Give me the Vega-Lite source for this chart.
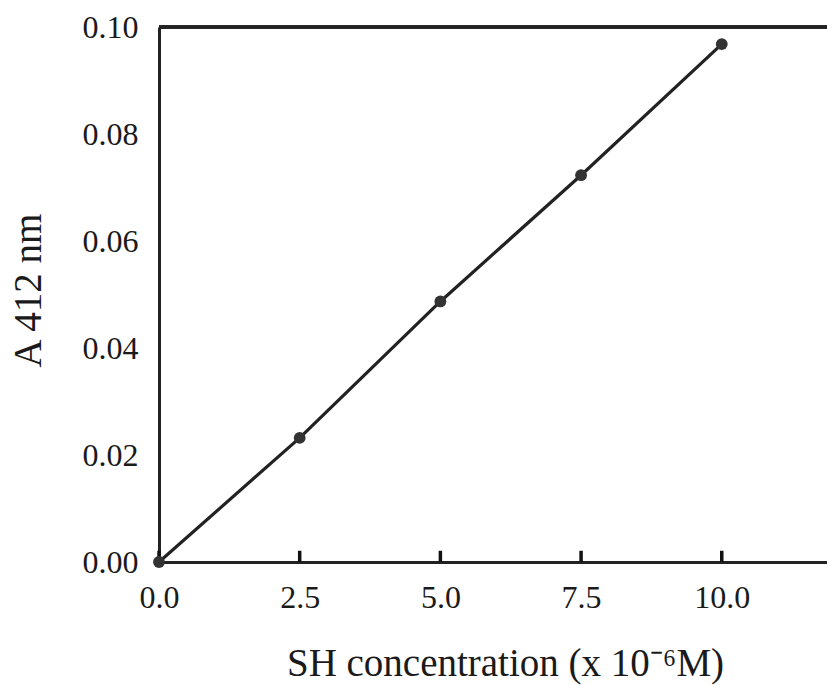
{
  "$schema": "https://vega.github.io/schema/vega-lite/v6.json",
  "width": 668,
  "height": 535,
  "autosize": {"type": "none"},
  "padding": {"left": 159, "top": 27, "right": 0, "bottom": 123},
  "background": "white",
  "config": {
    "view": {"stroke": null},
    "font": "Liberation Serif",
    "axis": {
      "grid": false,
      "ticks": false,
      "domainColor": "#222222",
      "domainWidth": 3,
      "labelFont": "Liberation Serif",
      "labelFontSize": 32,
      "labelColor": "#1a1a1a",
      "titleFont": "Liberation Serif",
      "titleFontSize": 39,
      "titleFontWeight": "normal",
      "titleColor": "#1a1a1a"
    }
  },
  "data": {
    "values": [
      {"conc": 0.0, "abs": 0.0},
      {"conc": 2.5, "abs": 0.0232},
      {"conc": 5.0, "abs": 0.0487},
      {"conc": 7.5, "abs": 0.0723},
      {"conc": 10.0, "abs": 0.0968}
    ]
  },
  "encoding": {
    "x": {
      "field": "conc",
      "type": "quantitative",
      "scale": {"domain": [0, 11.87], "nice": false, "zero": false},
      "axis": {
        "title": "SH concentration (x 10⁻⁶M)",
        "values": [0, 2.5, 5, 7.5, 10],
        "format": ".1f",
        "labelPadding": 20,
        "labelFlush": false,
        "titleX": 346,
        "titleY": 101,
        "titleAlign": "center",
        "titleBaseline": "middle"
      }
    },
    "y": {
      "field": "abs",
      "type": "quantitative",
      "scale": {"domain": [0, 0.1], "nice": false},
      "axis": {
        "title": "A 412 nm",
        "values": [0, 0.02, 0.04, 0.06, 0.08, 0.1],
        "format": ".2f",
        "labelPadding": 21,
        "labelFlush": false,
        "titleX": -131,
        "titleY": 263,
        "titleAngle": -90,
        "titleAlign": "center",
        "titleBaseline": "middle"
      }
    }
  },
  "layer": [
    {
      "mark": {"type": "rule", "color": "#222222", "strokeWidth": 3},
      "encoding": {"y": {"datum": 0.1}, "x": null}
    },
    {
      "mark": {"type": "rule", "color": "#111111", "strokeWidth": 3.5, "strokeCap": "butt"},
      "encoding": {
        "y": {"datum": 0},
        "y2": {"datum": 0.0021}
      }
    },
    {
      "data": {"values": [{"abs": 0.02}, {"abs": 0.04}, {"abs": 0.06}, {"abs": 0.08}]},
      "mark": {"type": "rule", "color": "#111111", "strokeWidth": 3.5, "strokeCap": "butt"},
      "encoding": {
        "x": {"datum": 0},
        "x2": {"datum": 0.2}
      }
    },
    {
      "mark": {"type": "line", "color": "#222222", "strokeWidth": 3.2}
    },
    {
      "mark": {"type": "point", "filled": true, "color": "#333333", "size": 140, "opacity": 1}
    }
  ]
}
